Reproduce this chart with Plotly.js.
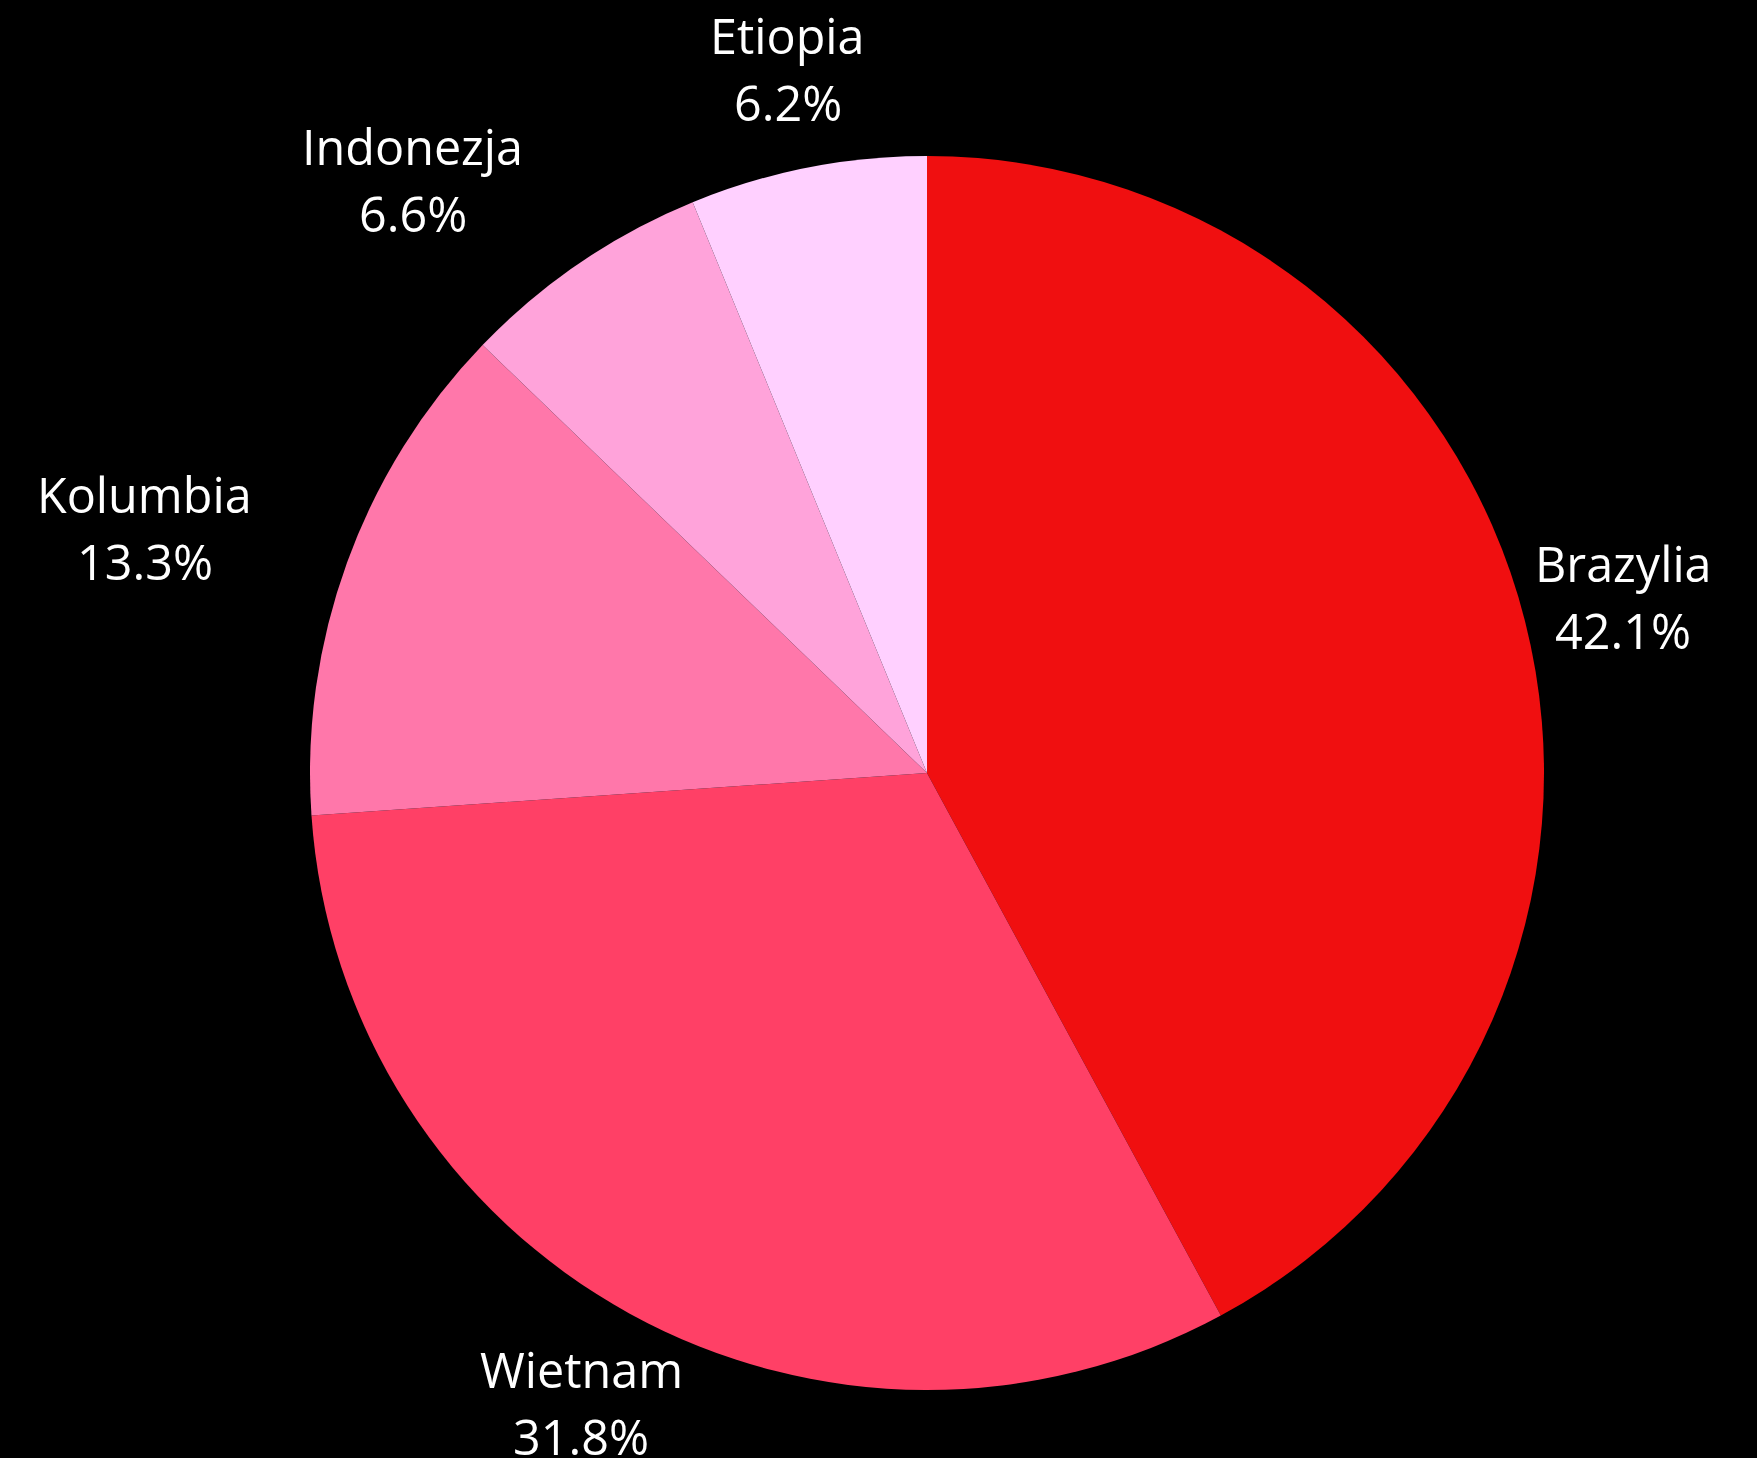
<!DOCTYPE html>
<html>
<head>
<meta charset="utf-8">
<script src="https://cdn.plot.ly/plotly-3.0.1.min.js"></script>
<style>html,body{margin:0;padding:0;background:#000;}</style>
</head>
<body>
<div id="chart" style="width:1757px;height:1458px;"></div>
<script>
const countries = ["Brazylia", "Wietnam", "Kolumbia", "Indonezja", "Etiopia"];
const shares = [42.1, 31.8, 13.3, 6.6, 6.2];
const colors = ["#F00F10", "#FF4066", "#FF77AA", "#FFA3DA", "#FFD0FF"];
// label block alignment relative to its anchor point (style)
const labelAlign = ["center", "center", "right", "right", "center"];

const W = 1757, H = 1458;
const margin = {l: 97, r: 0, t: 156, b: 68};
const fontSize = 48.5;
const fontFamily = "Open Sans";
const labelDist = 1.164;   // label anchor distance, in pie radii
const halfGap = 33.5;      // half the distance between the two label lines

const plotW = W - margin.l - margin.r;
const plotH = H - margin.t - margin.b;
const radius = Math.min(plotW, plotH) / 2;

const ctx = document.createElement("canvas").getContext("2d");
ctx.font = fontSize + "px '" + fontFamily + "'";

const total = shares.reduce((a, b) => a + b, 0);
const annotations = [];
let cum = 0;
shares.forEach((v, i) => {
  const midFrac = (cum + v / 2) / total;
  cum += v;
  const theta = Math.PI / 2 - midFrac * 2 * Math.PI;   // clockwise from top
  const px = labelDist * radius * Math.cos(theta);
  const py = labelDist * radius * Math.sin(theta);
  const name = countries[i];
  const pct = (v / total * 100).toFixed(1) + "%";
  const blockW = Math.max(ctx.measureText(name).width, ctx.measureText(pct).width);
  let cx = px;
  if (labelAlign[i] === "right") cx = px - blockW / 2;
  if (labelAlign[i] === "left") cx = px + blockW / 2;
  [[name, halfGap], [pct, -halfGap]].forEach(([txt, dy]) => {
    annotations.push({
      xref: "paper", yref: "paper", x: 0.5, y: 0.5,
      xshift: cx, yshift: py + dy,
      xanchor: "center", yanchor: "middle",
      text: txt, showarrow: false,
      font: {family: fontFamily, size: fontSize, color: "#ffffff"}
    });
  });
});

Plotly.newPlot("chart", [{
  type: "pie",
  labels: countries,
  values: shares,
  sort: false,
  direction: "clockwise",
  rotation: 0,
  marker: {colors: colors, line: {width: 0}},
  textinfo: "none",
  showlegend: false,
  hoverinfo: "none"
}], {
  width: W,
  height: H,
  paper_bgcolor: "#000000",
  plot_bgcolor: "#000000",
  margin: margin,
  showlegend: false,
  annotations: annotations,
  font: {family: fontFamily, color: "#ffffff"}
}, {displayModeBar: false, staticPlot: true});
</script>
</body>
</html>
